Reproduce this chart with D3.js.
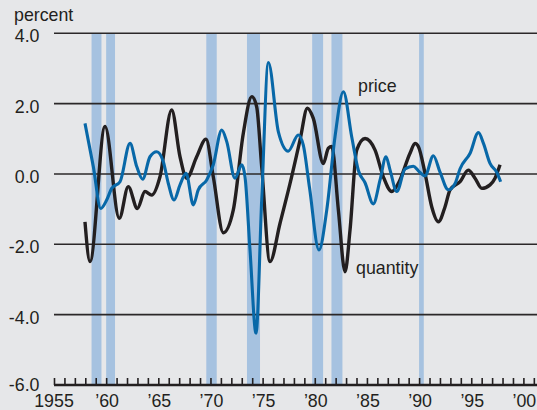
<!DOCTYPE html>
<html>
<head>
<meta charset="utf-8">
<script src="https://cdn.jsdelivr.net/npm/d3@7"></script>
<style>
  html, body { margin: 0; padding: 0; background: #e6e7e9; }
  svg { display: block; }
  text { font-family: "Liberation Sans", Arial, Helvetica, sans-serif; fill: #231f20; }
</style>
</head>
<body>
<svg id="chart" width="537" height="410"></svg>
<script>
// ---- data ----
const yTickValues = [4, 2, 0, -2, -4, -6];
const yTickLabels = ["4.0", "2.0", "0.0", "-2.0", "-4.0", "-6.0"];
const xLabelYears = [1955, 1960, 1965, 1970, 1975, 1980, 1985, 1990, 1995, 2000];
const xLabels = ["1955", "\u201960", "\u201965", "\u201970", "\u201975", "\u201980", "\u201985", "\u201990", "\u201995", "\u201900"];

const recessionStart = [1958.6, 1960.0, 1969.6, 1973.5, 1979.75, 1981.6, 1990.0];
const recessionEnd   = [1959.55, 1960.85, 1970.6, 1974.75, 1980.8, 1982.65, 1990.45];

const quantityYears = [1957.97, 1958.45, 1959.89, 1961.26, 1962.12, 1962.99, 1963.72, 1964.37, 1965.16, 1966.28,
  1967.08, 1967.72, 1968.68, 1969.57, 1970.27, 1971.23, 1972.19, 1973.15, 1973.96, 1974.43,
  1974.91, 1975.71, 1976.67, 1977.63, 1978.59, 1979.29, 1979.86, 1980.82, 1981.30, 1981.63,
  1982.26, 1982.90, 1983.38, 1984.02, 1984.82, 1985.78, 1986.57, 1987.38, 1988.01, 1989.13,
  1989.61, 1989.93, 1990.57, 1991.21, 1991.85, 1992.49, 1992.97, 1993.93, 1994.72, 1995.36,
  1996.01, 1996.80, 1997.28, 1997.76];
const quantityValues = [-1.36, -2.49, 1.35, -1.26, -0.36, -0.98, -0.50, -0.60, -0.08, 1.82,
  0.49, -0.12, 0.49, 0.99, -0.08, -1.67, -1.02, 1.16, 2.20, 1.91,
  0.21, -2.49, -1.40, -0.27, 0.97, 1.87, 1.58, 0.30, 0.73, 0.78,
  -1.02, -2.78, -1.59, 0.68, 1.01, 0.68, -0.08, -0.50, -0.27, 0.59,
  0.87, 0.78, 0.02, -0.93, -1.36, -0.93, -0.45, -0.22, 0.11, -0.12,
  -0.41, -0.31, -0.12, 0.26];

const priceYears = [1957.97, 1958.77, 1959.48, 1960.05, 1960.53, 1961.33, 1962.29, 1962.93, 1963.50, 1964.20,
  1964.85, 1965.48, 1965.96, 1966.51, 1967.08, 1967.66, 1968.36, 1968.83, 1969.64, 1970.27,
  1971.08, 1971.56, 1972.35, 1973.00, 1973.31, 1973.79, 1974.37, 1974.91, 1975.55, 1976.51,
  1977.46, 1978.42, 1978.90, 1979.50, 1980.40, 1981.15, 1981.94, 1982.74, 1983.54, 1984.18,
  1984.82, 1985.61, 1986.26, 1986.83, 1987.22, 1987.86, 1988.65, 1989.45, 1989.93, 1990.57,
  1991.37, 1992.01, 1992.80, 1993.45, 1993.93, 1994.89, 1995.69, 1996.17, 1996.80, 1997.44,
  1997.82];
const priceValues = [1.44, 0.21, -0.98, -0.74, -0.41, -0.22, 0.87, 0.21, -0.15, 0.49,
  0.63, 0.35, -0.27, -0.74, -0.31, 0.02, -0.88, -0.45, -0.17, 0.26,
  1.25, 0.92, -0.12, 0.26, -0.08, -2.16, -4.53, -0.74, 3.17, 1.20,
  0.65, 1.11, 0.82, -0.40, -2.16, -1.02, 1.06, 2.34, 1.06, 0.10,
  -0.25, -0.85, -0.17, 0.49, 0.11, -0.50, 0.14, 0.22, 0.09, -0.05,
  0.52, 0.05, -0.45, -0.27, 0.15, 0.59, 1.18, 0.87, 0.30, 0.05,
  -0.22];

// ---- scales ----
const svg = d3.select("#chart");
const x = d3.scaleLinear().domain([1955, 2000]).range([54, 523.4]);
const y = d3.scaleLinear().domain([-6, 4]).range([385, 33.3]);
const plotRight = 537;
const fs = 17.8;

// background
svg.append("rect").attr("width", 537).attr("height", 410).attr("fill", "#e6e7e9");

// recession bars
svg.append("g").selectAll("rect")
  .data(recessionStart.map((s, i) => [s, recessionEnd[i]]))
  .join("rect")
  .attr("x", d => x(d[0]))
  .attr("width", d => x(d[1]) - x(d[0]))
  .attr("y", y(4))
  .attr("height", y(-6) - y(4))
  .attr("fill", "#a6c2e0");

// gridlines
svg.append("g").selectAll("line")
  .data(yTickValues.filter(v => v !== -6))
  .join("line")
  .attr("x1", x(1955)).attr("x2", plotRight)
  .attr("y1", d => y(d)).attr("y2", d => y(d))
  .attr("stroke", "#2b2829").attr("stroke-width", 1.6);

// x axis
const xAxis = d3.axisBottom(x)
  .tickValues(d3.range(1955, 2002))
  .tickSize(-7)
  .tickFormat("");
const gx = svg.append("g").attr("transform", `translate(0,${y(-6)})`).call(xAxis);
gx.select(".domain").remove();
gx.selectAll(".tick line").attr("stroke", "#231f20").attr("stroke-width", 1.6);
gx.append("line").attr("x1", x(1955)).attr("x2", plotRight).attr("y1", 0).attr("y2", 0)
  .attr("stroke", "#231f20").attr("stroke-width", 2.4);

svg.append("g").selectAll("text")
  .data(xLabelYears)
  .join("text")
  .attr("x", (d, i) => x(d) + (i === 0 ? 0 : 1))
  .attr("y", 407)
  .attr("text-anchor", "middle")
  .attr("font-size", fs)
  .text((d, i) => xLabels[i]);

// y labels
svg.append("g").selectAll("text")
  .data(yTickValues)
  .join("text")
  .attr("x", 39.5)
  .attr("y", d => y(d) + (d === -6 ? 6 : 9))
  .attr("text-anchor", "end")
  .attr("font-size", fs)
  .text((d, i) => yTickLabels[i]);

svg.append("text").attr("x", 14).attr("y", 21).attr("font-size", fs).text("percent");

// lines
const qLine = d3.line().x((d, i) => x(quantityYears[i])).y(d => y(d)).curve(d3.curveMonotoneX);
svg.append("path").attr("d", qLine(quantityValues))
  .attr("fill", "none").attr("stroke", "#231f20").attr("stroke-width", 3.4)
  .attr("stroke-linejoin", "round").attr("stroke-linecap", "butt");

const pLine = d3.line().x((d, i) => x(priceYears[i])).y(d => y(d)).curve(d3.curveMonotoneX);
svg.append("path").attr("d", pLine(priceValues))
  .attr("fill", "none").attr("stroke", "#0868a8").attr("stroke-width", 3.1)
  .attr("stroke-linejoin", "round").attr("stroke-linecap", "butt");

// series labels
svg.append("text").attr("x", 358).attr("y", 92).attr("font-size", fs).text("price");
svg.append("text").attr("x", 356).attr("y", 274).attr("font-size", fs).text("quantity");
</script>
</body>
</html>
